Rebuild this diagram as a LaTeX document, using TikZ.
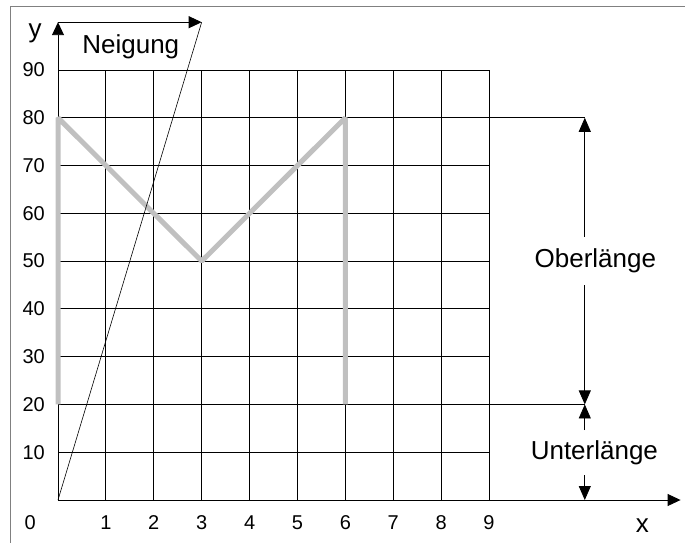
\documentclass[tikz,border=0pt]{standalone}
\usepackage{fontspec}
\setmainfont{Liberation Sans}
\usetikzlibrary{arrows.meta,positioning}
\definecolor{frameGray}{HTML}{808080}
\definecolor{letterGray}{HTML}{C0C0C0}
\tikzset{
  grid line/.style={draw=black, line width=0.9pt},
  axis arrow/.style={-{Triangle[length=13pt,width=12pt]}, line width=0.9pt, draw=black},
  dim arrow/.style={-{Triangle[length=14pt,width=12pt]}, line width=0.8pt, draw=black},
  slope line/.style={draw=black, line width=0.6pt},
  letter line/.style={draw=letterGray, line width=5pt, line join=bevel},
  tick label/.style={font=\fontsize{20}{24}\selectfont, inner sep=0pt},
  big label/.style={font=\fontsize{26}{30}\selectfont, inner sep=0pt},
  dim label/.style={big label, anchor=center}
}
\begin{document}
\begin{tikzpicture}[x=1pt, y=-1pt]
  \useasboundingbox (0,0) rectangle (685,543);
  \draw[frameGray, line width=1pt] (10,543) -- (10,7) -- (685,7);
  \begin{scope}[shift={(58,500)}, x=47.89pt, y=4.778pt]
    \coordinate (origin) at (0,0);
    \coordinate (ytip) at (0,100);
    \coordinate (slanttop) at (3,100);
    \coordinate (xtip) at (13,0);
    \coordinate (top80) at (11,80);
    \coordinate (mid20) at (11,20);
    \coordinate (base0) at (11,0);
    % grid
    \foreach \v in {10,30,40,50,60,70,90}
      \draw[grid line] (0,\v) -- (9,\v);
    \draw[grid line] (0,80) -- (top80);
    \draw[grid line] (0,20) -- (mid20);
    \foreach \i in {1,...,9}
      \draw[grid line] (\i,0) -- (\i,90);
    \draw[axis arrow] (origin) -- (xtip);
    \draw[axis arrow] (origin) -- (ytip);
    \draw[axis arrow] (ytip) -- (slanttop);
    % letter M
    \draw[letter line] (0,20) -- (0,80) -- (3,50) -- (6,80) -- (6,20);
    \draw[slope line] (slanttop) -- (origin);
    % labels
    \foreach \v in {10,20,...,90}
      \node[tick label, anchor=east] (yt\v) at (-0.27,\v) {\v};
    \node[tick label] (xt0) at (-0.58,-4.8) {0};
    \foreach \i in {1,...,9}
      \node[tick label] (xt\i) at (\i,-4.8) {\i};
    \node[big label, anchor=base] (ylab) at (-0.48,96.7) {y};
    \node[big label, anchor=base] (neigung) at (1.52,93.5) {Neigung};
    \node[big label] (xlab) at (12.2,-5.3) {x};
    % dimensions
    \node[dim label, minimum height=48pt] (ober) at (11.22,50) {Oberlänge};
    \node[dim label, minimum height=45pt] (unter) at (11.2,9.9) {Unterlänge};
    \draw[dim arrow] (ober.north -| top80) -- (top80);
    \draw[dim arrow] (ober.south -| mid20) -- (mid20);
    \draw[dim arrow] (unter.north -| mid20) -- (mid20);
    \draw[dim arrow] (unter.south -| base0) -- (base0);
  \end{scope}
\end{tikzpicture}
\end{document}
